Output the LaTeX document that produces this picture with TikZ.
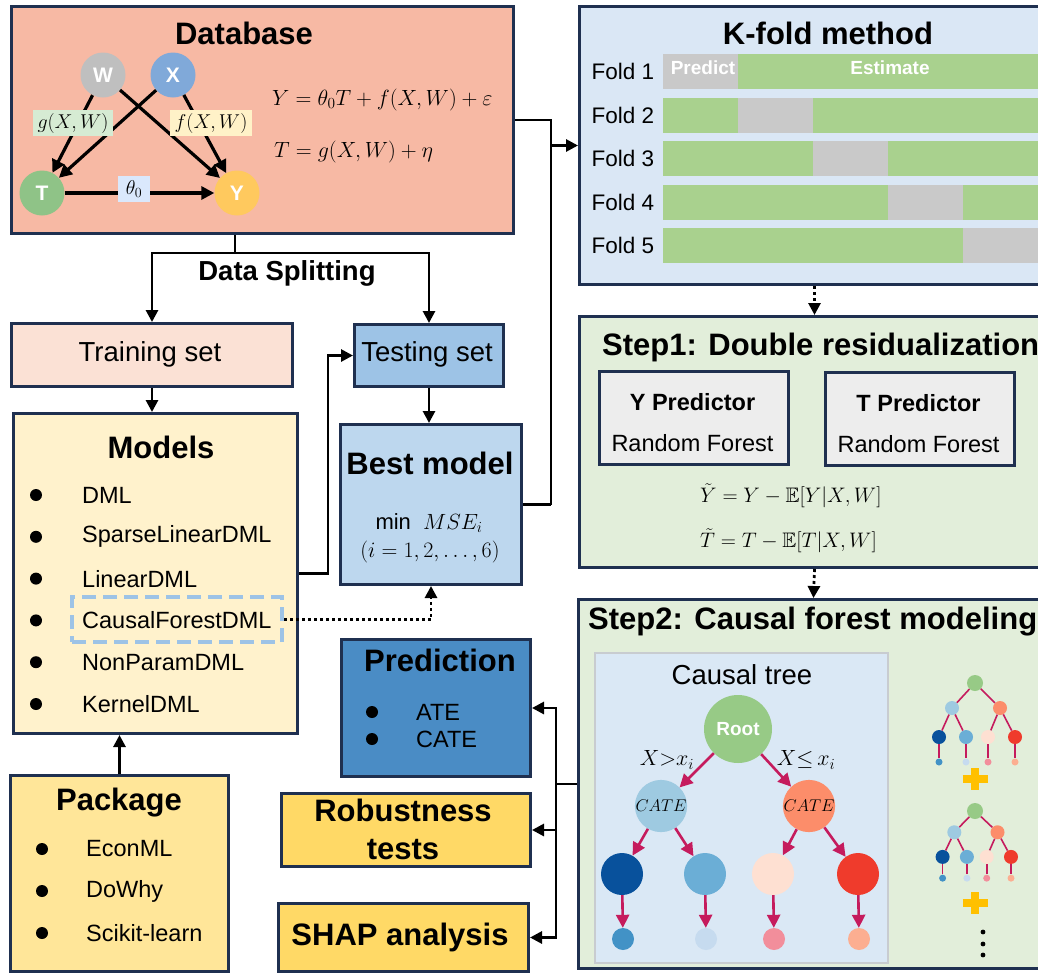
\RequirePackage{fix-cm}
\documentclass[tikz,border=0pt]{standalone}
\usepackage{amsmath,amssymb}
\usepackage{fontspec}
\setmainfont{Liberation Sans}
\usepackage{tikz}
\usetikzlibrary{arrows.meta,calc,positioning}
\usepackage{xcolor}

\definecolor{bordo}{HTML}{1F3050}
\definecolor{dbfill}{HTML}{F7B9A4}
\definecolor{kfill}{HTML}{DAE7F5}
\definecolor{stepfill}{HTML}{E2EEDA}
\definecolor{barverde}{HTML}{A9D18E}
\definecolor{bargrigio}{HTML}{C9C9C9}
\definecolor{trainfill}{HTML}{FBE1D5}
\definecolor{testfill}{HTML}{9DC3E6}
\definecolor{bestfill}{HTML}{BDD7EE}
\definecolor{modfill}{HTML}{FFF2CC}
\definecolor{pkgfill}{HTML}{FFE699}
\definecolor{predfill}{HTML}{4A8CC5}
\definecolor{robfill}{HTML}{FFD966}
\definecolor{predbox}{HTML}{EDEDED}
\definecolor{treefill}{HTML}{DAE8F5}
\definecolor{treeedge}{HTML}{C8CCD0}
\definecolor{nodoW}{HTML}{BFBFBF}
\definecolor{nodoX}{HTML}{80A9D9}
\definecolor{nodoT}{HTML}{8FC387}
\definecolor{nodoY}{HTML}{FFC95E}
\definecolor{radice}{HTML}{97CA86}
\definecolor{cateL}{HTML}{9ECAE1}
\definecolor{cateR}{HTML}{FC8D6A}
\definecolor{fogliaA}{HTML}{08519C}
\definecolor{fogliaB}{HTML}{6BAED6}
\definecolor{fogliaC}{HTML}{FEE0D2}
\definecolor{fogliaD}{HTML}{EF3B2C}
\definecolor{puntaA}{HTML}{4292C6}
\definecolor{puntaB}{HTML}{C6DBEF}
\definecolor{puntaC}{HTML}{F28E9B}
\definecolor{puntaD}{HTML}{FCAE91}
\definecolor{cremisi}{HTML}{C51B5D}
\definecolor{tratteggio}{HTML}{9DC3E6}
\definecolor{piu}{HTML}{FFC000}
\definecolor{gfill}{HTML}{D6EBD3}
\definecolor{ffill}{HTML}{FFF2C8}
\definecolor{thfill}{HTML}{DAE8FC}

\tikzset{
  blocco/.style={draw=bordo, line width=3pt, rectangle, inner sep=0pt, anchor=north west},
  titolo/.style={font=\fontsize{31}{38}\selectfont\bfseries, align=center},
  testo/.style={font=\fontsize{27.5}{32}\selectfont},
  testob/.style={font=\fontsize{27.5}{32}\selectfont\bfseries},
  voce/.style={font=\fontsize{23.5}{28}\selectfont, anchor=west, inner sep=0pt},
  voceb/.style={font=\fontsize{23.5}{28}\selectfont\bfseries, inner sep=0pt},
  barra/.style={font=\fontsize{19}{22}\selectfont\bfseries, text=white, inner sep=0pt},
  eq/.style={font=\fontsize{22}{26}\selectfont, anchor=west, inner sep=0pt},
  linea/.style={line width=2.8pt},
  freccia/.style={linea, -{Triangle[length=12pt,width=12pt]}},
  punti/.style={freccia, dash pattern=on 3pt off 3pt},
  gnodo/.style={circle, minimum size=45pt, inner sep=0pt, text=white, font=\fontsize{21}{24}\selectfont\bfseries},
  garco/.style={line width=3.2pt, -{Triangle[length=13pt,width=13pt]}},
  etich/.style={inner xsep=5pt, inner ysep=3pt, font=\fontsize{20}{24}\selectfont},
  tnodo/.style={circle, inner sep=0pt},
  tarco/.style={draw=cremisi, line width=2.6pt, -{Triangle[length=13pt,width=13pt]}},
  mnodo/.style={circle, inner sep=0pt, minimum size=14pt},
  mlinea/.style={draw=cremisi, line width=1.6pt},
}

\begin{document}
\begin{tikzpicture}[x=1pt,y=-1pt]
\useasboundingbox (0,0) rectangle (1038,972);
\clip (0,0) rectangle (1038,972);

% Database con il grafo causale
\node[blocco, fill=dbfill, minimum width=502pt, minimum height=227pt] (db) at (10,5) {};
\node[titolo] (dbt) at (244,33) {Database};
\node[gnodo, fill=nodoW] (W) at (103,75) {W};
\node[gnodo, fill=nodoX] (X) at (173,75) {X};
\node[gnodo, fill=nodoT] (T) at (42,193) {T};
\node[gnodo, fill=nodoY] (Y) at (237,193) {Y};
\draw[garco] (W) -- (T);
\draw[garco] (X) -- (T);
\draw[garco] (W) -- (Y);
\draw[garco] (X) -- (Y);
\draw[garco] (T) -- (Y);
\node[etich, fill=gfill] (gl) at (73,123) {$g(X,W)$};
\node[etich, fill=ffill] (fl) at (211,123) {$f(X,W)$};
\node[etich, fill=thfill, inner xsep=8pt, inner ysep=5pt] (thl) at (134,189) {$\theta_0$};
\node[eq] (eqY) at (272,100) {$Y=\theta_0T+f(X,W)+\varepsilon$};
\node[eq] (eqT) at (274,152) {$T=g(X,W)+\eta$};

% K-fold
\node[blocco, fill=kfill, minimum width=470pt, minimum height=278pt] (kfold) at (578,5) {};
\node[titolo] (kft) at (828,33) {K-fold method};
\foreach \k in {1,...,5}{
  \pgfmathsetmacro{\yt}{54+43.5*(\k-1)}
  \pgfmathsetmacro{\xg}{663+75*(\k-1)}
  \fill[barverde] (663,\yt) rectangle (1040,\yt+35);
  \fill[bargrigio] (\xg,\yt) rectangle (\xg+75,\yt+35);
  \node[voce, anchor=center, font=\fontsize{22.5}{26}\selectfont] (fold\k) at (623,\yt+17.5) {Fold \k};
}
\node[barra] (prd) at (703,68) {Predict};
\node[barra] (est) at (890,68) {Estimate};

% Step1
\node[blocco, fill=stepfill, minimum width=470pt, minimum height=251pt] (step1) at (578,315) {};
\node[titolo, anchor=west, inner sep=0pt] (s1t) at (602,347) {Step1: Double residualization};
\node[blocco, fill=predbox, minimum width=189pt, minimum height=93pt] (yp) at (598,370) {};
\node[voceb] (ypa) at (692.5,402) {Y Predictor};
\node[voce, anchor=center] (ypb) at (692.5,443) {Random Forest};
\node[blocco, fill=predbox, minimum width=189pt, minimum height=93pt] (tp) at (824,371) {};
\node[voceb] (tpa) at (918.5,403) {T Predictor};
\node[voce, anchor=center] (tpb) at (918.5,444) {Random Forest};
\node[eq, font=\fontsize{21}{25}\selectfont] (eqYt) at (700,496) {$\tilde{Y}=Y-\mathbb{E}[Y|X,W]$};
\node[eq, font=\fontsize{21}{25}\selectfont] (eqTt) at (700,541) {$\tilde{T}=T-\mathbb{E}[T|X,W]$};

% Step2: albero causale
\node[blocco, fill=stepfill, minimum width=470pt, minimum height=369pt] (step2) at (577,598) {};
\node[titolo, anchor=west, inner sep=0pt] (s2t) at (588,622) {Step2: Causal forest modeling};
\node[draw=treeedge, line width=2.5pt, fill=treefill, minimum width=293pt, minimum height=310pt, inner sep=0pt] (ctree) at (741.5,808) {};
\node[testo] (ctt) at (742,675) {Causal tree};
\node[tnodo, fill=radice, minimum size=68pt, text=white, font=\fontsize{19}{22}\selectfont\bfseries] (root) at (738,729) {Root};
\node[tnodo, fill=cateL, minimum size=50pt, font=\fontsize{17}{20}\selectfont] (cl) at (661,806) {$CATE$};
\node[tnodo, fill=cateR, minimum size=50pt, font=\fontsize{17}{20}\selectfont] (cr) at (809,806) {$CATE$};
\draw[tarco] (root) -- (cl);
\draw[tarco] (root) -- (cr);
\foreach \j/\x/\cf/\cs in {1/622/fogliaA/puntaA, 2/705/fogliaB/puntaB, 3/773/fogliaC/puntaC, 4/858/fogliaD/puntaD}{
  \node[tnodo, fill=\cf, minimum size=42pt] (l\j) at (\x,874) {};
  \node[tnodo, fill=\cs, minimum size=22pt] (s\j) at (\x+1,939) {};
  \draw[tarco] (l\j) -- (s\j);
}
\draw[tarco] (cl) -- (l1);
\draw[tarco] (cl) -- (l2);
\draw[tarco] (cr) -- (l3);
\draw[tarco] (cr) -- (l4);
\node[font=\fontsize{22}{26}\selectfont] (splL) at (667,760) {$X{>}x_i$};
\node[font=\fontsize{22}{26}\selectfont] (splR) at (806,760) {$X{\leq}\,x_i$};

% foresta: alberi piccoli
\foreach \n/\ry/\sx/\sy in {1/683/1/1, 2/811/0.9/0.85}{
  \node[mnodo, fill=radice, minimum size=16pt] (t\n r) at (975,\ry) {};
  \node[mnodo, fill=cateL] (t\n a) at (975-23*\sx,\ry+25*\sy) {};
  \node[mnodo, fill=cateR] (t\n b) at (975+25*\sx,\ry+25*\sy) {};
  \draw[mlinea] (t\n r) -- (t\n a);
  \draw[mlinea] (t\n r) -- (t\n b);
  \foreach \j/\dx/\cf/\cs/\pa in {1/-36/fogliaA/puntaA/a, 2/-9/fogliaB/puntaB/a, 3/13/fogliaC/puntaC/b, 4/40/fogliaD/puntaD/b}{
    \node[mnodo, fill=\cf] (t\n c\j) at (975+\dx*\sx,\ry+54*\sy) {};
    \node[mnodo, fill=\cs, minimum size=7pt] (t\n d\j) at (975+\dx*\sx,\ry+79*\sy) {};
    \draw[mlinea] (t\n\pa) -- (t\n c\j);
    \draw[mlinea] (t\n c\j) -- (t\n d\j);
  }
}
% segni + e puntini
\foreach \yp in {779,903}{
  \draw[piu, line width=7.5pt] (962.5,\yp) -- (987.5,\yp);
  \draw[piu, line width=7.5pt] (975,\yp-11) -- (975,\yp+11);
}
\foreach \yd in {932,944,955}{
  \fill (983,\yd) circle (2.4pt);
}

% colonna sinistra
\node[testob] (split-lbl) at (287,273) {Data Splitting};
\node[blocco, fill=trainfill, minimum width=281pt, minimum height=63pt] (train) at (10,322) {};
\node[testo] (train-lbl) at (150,354) {Training set};
\node[blocco, fill=testfill, minimum width=149pt, minimum height=62pt] (test) at (353,323) {};
\node[testo] (test-lbl) at (427,354) {Testing set};
\node[blocco, fill=bestfill, minimum width=181pt, minimum height=160pt] (best) at (339,423) {};
\node[titolo] (best-lbl) at (430,463) {Best model};
\node[font=\fontsize{22}{26}\selectfont] (mse) at (429,523) {min\ \ $MSE_i$};
\node[font=\fontsize{22}{26}\selectfont] (irange) at (430,552) {$(i=1,2,\dots,6)$};

\node[blocco, fill=modfill, minimum width=284pt, minimum height=320pt] (models) at (12,412) {};
\node[titolo] (mod-lbl) at (161,447) {Models};
\foreach \m [count=\i] in {DML,SparseLinearDML,LinearDML,CausalForestDML,NonParamDML,KernelDML}{
  \pgfmathsetmacro{\yy}{495+41.8*(\i-1)}
  \fill (36,\yy) circle (6pt);
  \node[voce] (m\i) at (82,\yy) {\m};
}
\node[draw=tratteggio, line width=4pt, dash pattern=on 14pt off 7pt, minimum width=210pt, minimum height=45pt, inner sep=0pt] (cfbox) at (177,619.5) {};

\node[blocco, fill=pkgfill, minimum width=218pt, minimum height=196pt] (pkg) at (9,774) {};
\node[titolo] (pkg-lbl) at (119,803) {Package};
\foreach \p [count=\i] in {EconML,DoWhy,Scikit-learn}{
  \pgfmathsetmacro{\yy}{849+42*(\i-1)}
  \fill (42,\yy) circle (6pt);
  \node[voce] (p\i) at (86,\yy) {\p};
}

% risultati
\node[blocco, fill=predfill, minimum width=189pt, minimum height=137pt] (pred) at (340,638) {};
\node[titolo] (pred-lbl) at (440,660) {Prediction};
\foreach \r/\yy in {ATE/712,CATE/739}{
  \fill (372,\yy) circle (6pt);
  \node[voce] (r\r) at (416,\yy) {\r};
}
\node[blocco, fill=robfill, minimum width=249pt, minimum height=73pt] (robust) at (280,792) {};
\node[titolo] (rob-lbl) at (403,829) {Robustness\\tests};
\node[blocco, fill=robfill, minimum width=250pt, minimum height=68pt] (shap) at (277,902) {};
\node[titolo] (shap-lbl) at (400,937) {SHAP analysis};

% frecce
\coordinate (split) at (235,253);
\draw[linea] (db.south -| split) -- (split);
\draw[freccia] (split) -| (train.north);
\draw[freccia] (split) -| (test.north);
\draw[freccia] (train.south) -- (train.south |- models.north);
\draw[freccia] (models.east) -- ++(29,0) |- (test.west);
\draw[freccia] (test.south) -- (test.south |- best.north);
\coordinate (fork) at ($(best.east)+(28,0)$);
\draw[linea] (db.east) -| (fork);
\draw[linea] (best.east) -- (fork);
\draw[freccia] (fork |- kfold.west) -- (kfold.west);
\draw[freccia] (pkg.north) -- (pkg.north |- models.south);
\coordinate (hub) at ($(step2.west)+(-21,0)$);
\draw[linea] (step2.west) -- (hub);
\draw[freccia] (hub) |- (pred.east);
\draw[freccia] (hub) |- (robust.east);
\draw[freccia] (hub) |- (shap.east);
% frecce tratteggiate
\draw[punti] (kfold.south) -- (step1.north);
\draw[punti] (step1.south) -- (step2.north);
\draw[punti] (cfbox.east) -| (best.south);
\end{tikzpicture}
\end{document}
